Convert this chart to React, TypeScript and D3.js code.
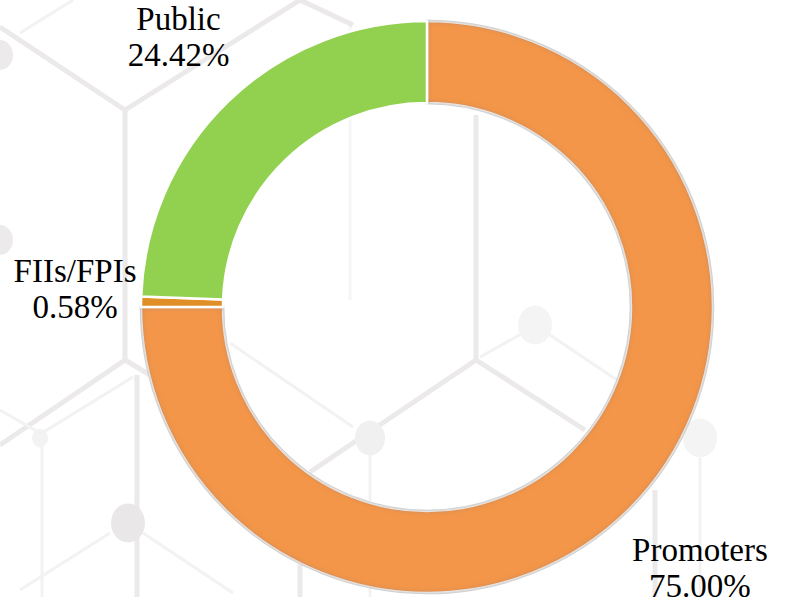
import React, { useEffect, useRef } from "react";
import * as d3 from "d3";

// shareholding data
const categories = ["Promoters", "FIIs/FPIs", "Public"];
const values = [75.0, 0.58, 24.42];
const valueLabels = ["75.00%", "0.58%", "24.42%"];
const colors = ["#f39649", "#df8f26", "#92d050"];
const labelRadius = [386, 352, 358];

// decorative hexagon background (thick and thin grey lines, dots)
const bgThick = [
  [[0, 27], [125, 110]],
  [[125, 110], [300, 0]],
  [[300, 0], [353, 25]],
  [[125, 110], [125, 360]],
  [[125, 360], [0, 445]],
  [[125, 360], [150, 375]],
  [[476, 115], [476, 360]],
  [[476, 360], [310, 472]],
  [[476, 360], [585, 430]],
  [[137, 375], [137, 597]],
  [[300, 565], [300, 597]],
  [[655, 490], [655, 597]],
];
const bgThin = [
  [[20, 33], [73, 0]],
  [[0, 410], [40, 433]],
  [[42, 433], [133, 377]],
  [[42, 445], [42, 597]],
  [[110, 533], [20, 590]],
  [[143, 533], [233, 593]],
  [[230, 343], [353, 427]],
  [[370, 450], [370, 597]],
  [[547, 333], [617, 380]],
  [[523, 333], [480, 357]],
  [[700, 458], [700, 597]],
];
const bgDots = [
  [0, 55, 13, "#eceaea"],
  [0, 240, 13, "#eceaea"],
  [40, 438, 8, "#f4f3f3"],
  [128, 523, 17, "#e9e7e7"],
  [370, 438, 15, "#f1f0f0"],
  [535, 325, 17, "#f5f4f4"],
  [700, 438, 17, "#f5f4f4"],
];

const App = () => {
  const svgRef = useRef(null);
  const width = 785;
  const height = 597;
  const cx = 427;
  const cy = 307;
  const outerR = 286;
  const innerR = 204;

  useEffect(() => {
    const svg = d3.select(svgRef.current);
    svg.selectAll("*").remove();

    // filtro de sombra interior
    const defs = svg.append("defs");
    const f = defs
      .append("filter")
      .attr("id", "inner")
      .attr("x", "-10%")
      .attr("y", "-10%")
      .attr("width", "120%")
      .attr("height", "120%");
    f.append("feFlood").attr("flood-color", "#7a7470");
    f.append("feComposite").attr("in2", "SourceAlpha").attr("operator", "out");
    f.append("feGaussianBlur").attr("stdDeviation", 3);
    f.append("feComposite")
      .attr("in2", "SourceAlpha")
      .attr("operator", "in")
      .attr("result", "shadow");
    const m = f.append("feMerge");
    m.append("feMergeNode").attr("in", "SourceGraphic");
    m.append("feMergeNode").attr("in", "shadow");

    const bg = svg.append("g");
    bg.append("line")
      .attr("x1", 350)
      .attr("y1", 25)
      .attr("x2", 350)
      .attr("y2", 300)
      .attr("stroke", "#f7f6f6")
      .attr("stroke-width", 3);
    bg.selectAll(".thick")
      .data(bgThick)
      .enter()
      .append("line")
      .attr("x1", (d) => d[0][0])
      .attr("y1", (d) => d[0][1])
      .attr("x2", (d) => d[1][0])
      .attr("y2", (d) => d[1][1])
      .attr("stroke", "#ebe9e9")
      .attr("stroke-width", 5);
    bg.selectAll(".thin")
      .data(bgThin)
      .enter()
      .append("line")
      .attr("x1", (d) => d[0][0])
      .attr("y1", (d) => d[0][1])
      .attr("x2", (d) => d[1][0])
      .attr("y2", (d) => d[1][1])
      .attr("stroke", "#f3f2f2")
      .attr("stroke-width", 3);
    bg.selectAll("ellipse")
      .data(bgDots)
      .enter()
      .append("ellipse")
      .attr("cx", (d) => d[0])
      .attr("cy", (d) => d[1])
      .attr("rx", (d) => d[2])
      .attr("ry", (d) => d[2] * 1.15)
      .attr("fill", (d) => d[3]);

    const pie = d3
      .pie()
      .sort(null)
      .value((d) => d);
    const arcs = pie(values);
    const arc = d3.arc().innerRadius(innerR).outerRadius(outerR);

    const g = svg.append("g").attr("transform", `translate(${cx},${cy})`);

    // separadores blancos (debajo de la sombra)
    g.selectAll(".slice")
      .data(arcs)
      .enter()
      .append("path")
      .attr("class", "slice")
      .attr("d", arc)
      .attr("fill", (_, i) => colors[i])
      .attr("stroke", "#ffffff")
      .attr("stroke-width", 2.5)
      .attr("filter", (_, i) => (i === 0 ? "url(#inner)" : null));

    // etiquetas
    const labels = g
      .selectAll(".label")
      .data(arcs)
      .enter()
      .append("text")
      .attr("class", "label")
      .attr("transform", (d, i) => {
        const a = (d.startAngle + d.endAngle) / 2;
        const r = labelRadius[i];
        return `translate(${r * Math.sin(a)},${-r * Math.cos(a)})`;
      })
      .attr("text-anchor", "middle")
      .style("font-family", "'Liberation Serif', serif")
      .style("font-size", "33px")
      .attr("fill", "#000");
    labels
      .append("tspan")
      .attr("x", 0)
      .attr("y", -19)
      .text((_, i) => categories[i]);
    labels
      .append("tspan")
      .attr("x", 0)
      .attr("y", 17)
      .text((_, i) => valueLabels[i]);
  }, []);

  return (
    <svg
      ref={svgRef}
      width={width}
      height={height}
      style={{ position: "absolute", left: 0, top: 0, background: "#fff" }}
    ></svg>
  );
};

export default App;
